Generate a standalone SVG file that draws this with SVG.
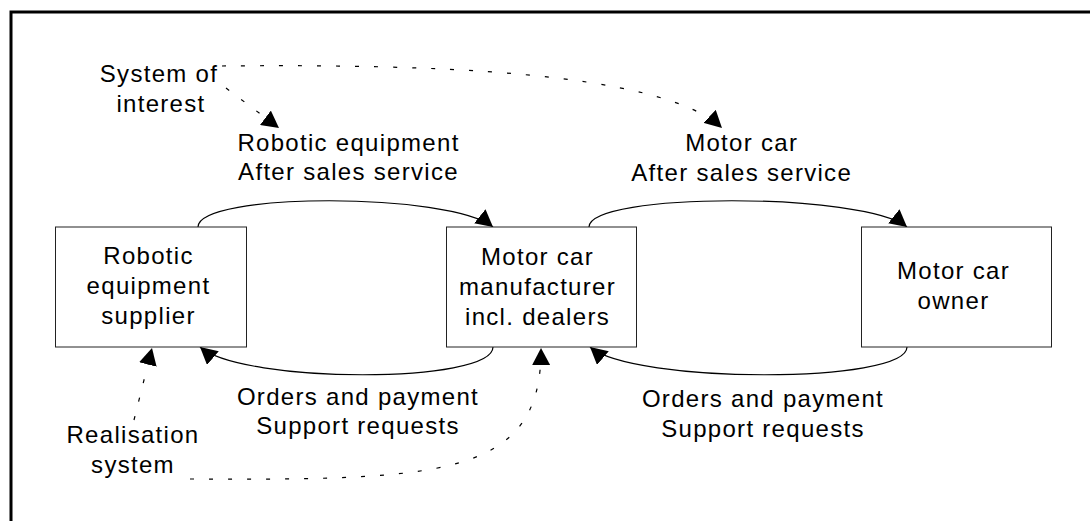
<svg xmlns="http://www.w3.org/2000/svg" width="1090" height="521" viewBox="0 0 1090 521">
<style>
text{font-family:"Liberation Sans",Arial,sans-serif;font-size:24px;fill:#000;text-anchor:middle;letter-spacing:1.3px}
.box{fill:#fff;stroke:#222;stroke-width:1}
.flow{fill:none;stroke:#000;stroke-width:1.2;marker-end:url(#ah)}
.dot{fill:none;stroke:#000;stroke-width:1.2;stroke-dasharray:4 15;marker-end:url(#ah)}
</style>
<defs>
<marker id="ah" viewBox="0 0 17 18" refX="17" refY="9" markerWidth="17" markerHeight="18" markerUnits="userSpaceOnUse" orient="auto">
<path d="M0,0 L17,9 L0,18 z" fill="#000" stroke="none"/>
</marker>
</defs>
<rect width="1090" height="521" fill="#fff"/>
<path d="M11,525 L11,12 L1095,12" fill="none" stroke="#000" stroke-width="3"/>

<g id="connectors">
<path class="flow" d="M198,227 C198,192 450,192 493,227"/>
<path class="flow" d="M589,227 C589,192 864,192 907,227"/>
<path class="flow" d="M493,347 C493,384 243,384 200,347"/>
<path class="flow" d="M907,347 C907,384 633,384 590,347"/>
<path class="dot" d="M222,66 C420,64 660,70 722,128"/>
<path class="dot" d="M226,88 L279,128"/>
<path class="dot" d="M134,420 L152,348"/>
<path class="dot" d="M190,479 C440,480 542,478 541,348"/>
</g>

<g id="supplier">
<rect class="box" x="55.5" y="227" width="191" height="120"/>
<text x="148.5" y="264">Robotic</text>
<text x="148.5" y="294">equipment</text>
<text x="148.5" y="324">supplier</text>
</g>
<g id="manufacturer">
<rect class="box" x="446.5" y="227" width="190" height="120"/>
<text x="537.5" y="265">Motor car</text>
<text x="537.5" y="295">manufacturer</text>
<text x="537.5" y="325">incl. dealers</text>
</g>
<g id="owner">
<rect class="box" x="861.5" y="227" width="190" height="120"/>
<text x="953.5" y="279">Motor car</text>
<text x="953.5" y="309">owner</text>
</g>

<g id="labels">
<text x="159" y="82">System of</text>
<text x="161" y="112">interest</text>
<text x="348.5" y="151">Robotic equipment</text>
<text x="348.5" y="180">After sales service</text>
<text x="741.7" y="151">Motor car</text>
<text x="741.7" y="181">After sales service</text>
<text x="358" y="405">Orders and payment</text>
<text x="358" y="434">Support requests</text>
<text x="763" y="407">Orders and payment</text>
<text x="763" y="437">Support requests</text>
<text x="133" y="443">Realisation</text>
<text x="133" y="473">system</text>
</g>
</svg>
